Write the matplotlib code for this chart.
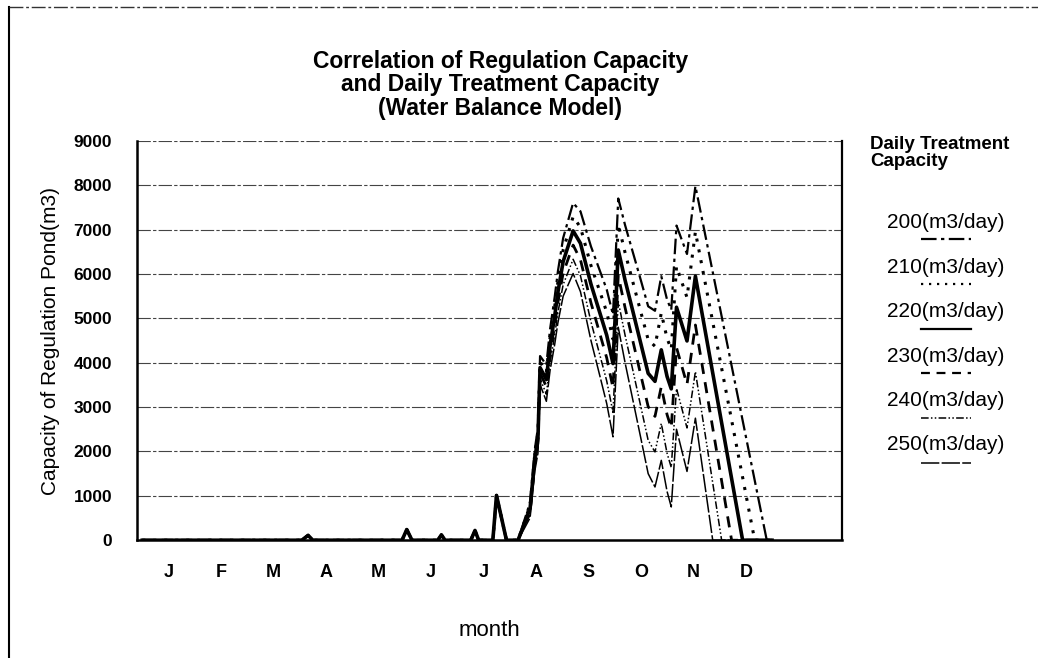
import matplotlib
matplotlib.use("Agg")
import matplotlib.pyplot as plt
from matplotlib.lines import Line2D

plt.rcParams["font.family"] = ["Liberation Sans", "DejaVu Sans"]

# ── data (months: 0 = start of Jan) ─────────────────────────────────
month_labels = ["J", "F", "M", "A", "M", "J", "J", "A", "S", "O", "N", "D"]

# common part, identical for all capacities
early_month = [0.0, 3.04, 3.16, 3.25, 4.95, 5.04, 5.14, 5.63, 5.70, 5.77,
               6.26, 6.34, 6.41, 6.68, 6.75, 6.94]
early_m3 = [0, 0, 110, 0, 0, 240, 0, 0, 120, 0, 0, 220, 0, 0, 1010, 0]

month = [7.16, 7.39, 7.48, 7.54, 7.58, 7.70, 7.77, 7.86, 7.92, 8.02,
         8.21, 8.35, 8.55, 8.72, 8.85, 8.97, 9.07, 9.20, 9.35, 9.50,
         9.64, 9.77, 9.89, 10.00, 10.08, 10.18, 10.38, 10.54]

cap_200 = [0, 855, 2050, 2540, 4150, 3950, 4750, 5490, 6060, 6810,
           7600, 7410, 6620, 6070, 5650, 5080, 7700, 7100, 6480, 5860,
           5270, 5170, 5950, 5420, 5190, 7090, 6450, 7980]
cap_210 = [0, 785, 1950, 2420, 4020, 3790, 4560, 5270, 5820, 6540,
           7290, 7050, 6190, 5600, 5140, 4530, 7120, 6480, 5810, 5140,
           4520, 4370, 5120, 4550, 4300, 6170, 5470, 6950]
cap_220 = [0, 715, 1850, 2310, 3890, 3620, 4380, 5060, 5590, 6280,
           6970, 6690, 5770, 5120, 4620, 3980, 6540, 5860, 5150, 4430,
           3760, 3580, 4290, 3690, 3410, 5250, 4490, 5950]
cap_230 = [0, 645, 1750, 2190, 3770, 3460, 4190, 4850, 5360, 6020,
           6650, 6320, 5350, 4650, 4110, 3430, 5960, 5240, 4480, 3720,
           3010, 2790, 3460, 2830, 2530, 4340, 3510, 4850]
cap_240 = [0, 575, 1660, 2080, 3640, 3290, 4000, 4630, 5130, 5760,
           6330, 5960, 4920, 4170, 3590, 2880, 5380, 4620, 3820, 3010,
           2250, 1990, 2630, 1960, 1640, 3420, 2530, 3800]
cap_250 = [0, 505, 1560, 1960, 3510, 3130, 3820, 4420, 4900, 5500,
           6010, 5600, 4500, 3700, 3080, 2330, 4800, 4000, 3150, 2300,
           1500, 1200, 1800, 1100, 750, 2500, 1550, 2750]

# month where each curve reaches zero again, data runs to end of Dec
empty_month = [11.90, 11.67, 11.44, 11.23, 11.04, 10.87]
year_end = 12.0

names = ["200(m3/day)", "210(m3/day)", "220(m3/day)",
         "230(m3/day)", "240(m3/day)", "250(m3/day)"]
values = [cap_200, cap_210, cap_220, cap_230, cap_240, cap_250]

styles = [
    dict(lw=1.6, ls=(0, (7, 2, 1.5, 2))),            # 200 dash-dot
    dict(lw=2.2, ls=(0, (1, 2.6))),                   # 210 dotted
    dict(lw=2.6, ls="-"),                             # 220 thick solid
    dict(lw=2.0, ls=(0, (4, 3))),                     # 230 dashed
    dict(lw=1.1, ls=(0, (5, 1.5, 1, 1.5, 1, 1.5))),   # 240 dash-dot-dot
    dict(lw=1.1, ls=(0, (12, 1.5))),                  # 250 thin
]

# ── figure ──────────────────────────────────────────────────────────
fig = plt.figure(figsize=(10.38, 6.58), dpi=100)
ax = fig.add_axes([0.132, 0.179, 0.679, 0.607])

for name, vals, zm, st in zip(names, values, empty_month, styles):
    xs = early_month + month + [zm, year_end]
    ys = early_m3 + vals + [0, 0]
    ax.plot(xs, ys, color="black", solid_joinstyle="round",
            dash_capstyle="butt", label=name, **st)

ax.set_xlim(-0.1, 13.33)
ax.set_ylim(0, 9000)
ax.set_yticks(range(0, 9001, 1000))
ax.set_yticklabels([str(v) for v in range(0, 9001, 1000)],
                   fontsize=12.5, fontweight="bold")
ax.set_xticks([i + 0.5 for i in range(12)])
ax.set_xticklabels(month_labels, fontsize=13, fontweight="bold")
ax.tick_params(axis="both", length=0)
ax.tick_params(axis="x", pad=17)
ax.tick_params(axis="y", pad=18)

for v in range(1000, 9001, 1000):
    ax.axhline(v, color="#444444", lw=0.8, ls=(0, (12, 2, 3, 2)), zorder=0)

ax.spines["left"].set_linewidth(1.8)
ax.spines["bottom"].set_linewidth(1.8)
ax.spines["right"].set_linewidth(1.6)
ax.spines["top"].set_visible(False)

ax.set_ylabel("Capacity of Regulation Pond(m3)", fontsize=15, labelpad=10)
ax.set_xlabel("month", fontsize=16, labelpad=28)

fig.text(0.482, 0.871,
         "Correlation of Regulation Capacity\nand Daily Treatment Capacity\n(Water Balance Model)",
         ha="center", va="center", fontsize=16.5, fontweight="bold",
         linespacing=1.02)

# legend drawn by hand (text above a short line sample)
fig.text(0.838, 0.768, "Daily Treatment\nCapacity", ha="left", va="center",
         fontsize=13.5, fontweight="bold", linespacing=0.98)
for i, (name, st) in enumerate(zip(names, styles)):
    y_txt = 1 - (223 + i * 44.4) / 658
    y_line = 1 - (239 + i * 44.8) / 658
    fig.text(0.911, y_txt, name, ha="center", va="center", fontsize=15)
    fig.add_artist(Line2D([0.887, 0.935], [y_line, y_line], color="black",
                          lw=min(st["lw"], 1.6), ls=st["ls"],
                          transform=fig.transFigure))

# page border of the scan
fig.add_artist(Line2D([0.009, 0.009], [0.0, 0.99], color="black", lw=1.5,
                      transform=fig.transFigure))
fig.add_artist(Line2D([0.009, 1.0], [0.99, 0.99], color="#333333", lw=1.0,
                      ls=(0, (10, 2, 2, 2)), transform=fig.transFigure))

fig.savefig("out.png", dpi=100)
